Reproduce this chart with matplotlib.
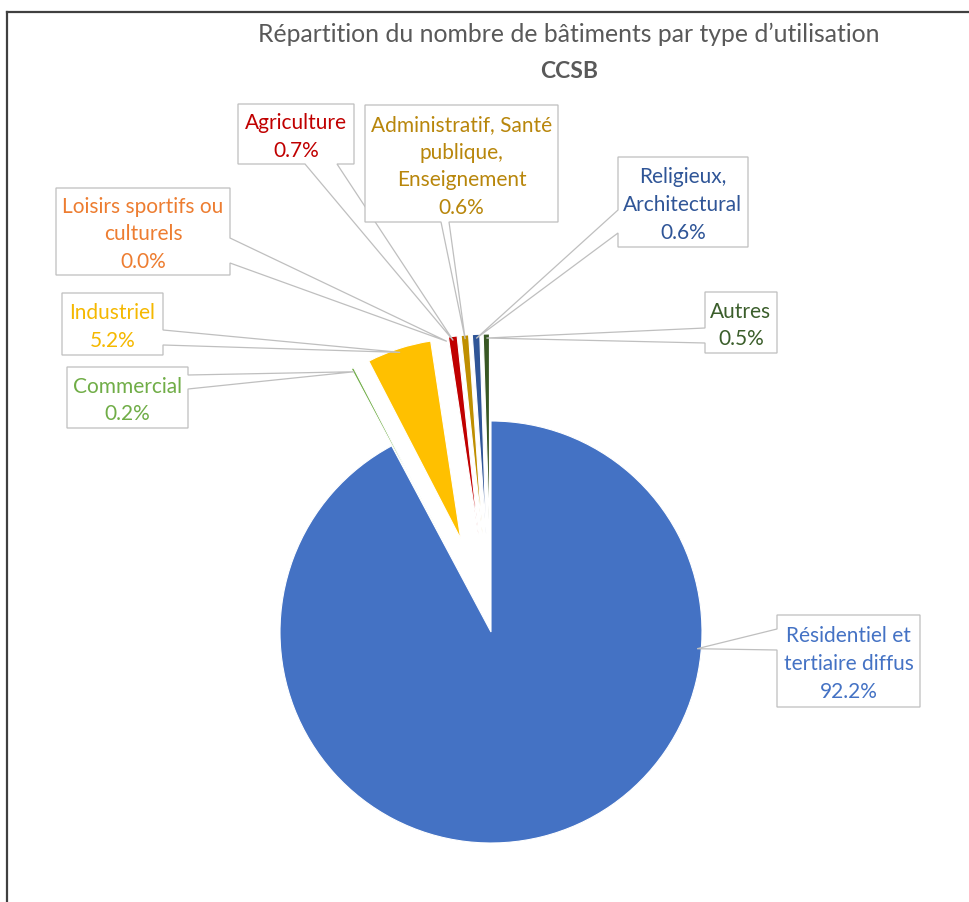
import numpy as np
import matplotlib
matplotlib.use("Agg")
import matplotlib.pyplot as plt
from matplotlib.patches import Polygon

plt.rcParams['font.family'] = ['Lato', 'DejaVu Sans']

# data (clockwise from 12 o'clock)
categories = ["Résidentiel et\ntertiaire diffus", "Commercial", "Industriel",
              "Loisirs sportifs ou\nculturels", "Agriculture",
              "Administratif, Santé\npublique,\nEnseignement",
              "Religieux,\nArchitectural", "Autres"]
shares = [92.2, 0.2, 5.2, 0.0, 0.7, 0.6, 0.6, 0.5]
slice_colors = ["#4472C4", "#70AD47", "#FFC000", "#ED7D31",
                "#C00000", "#BF8F00", "#2F5597", "#385723"]
text_colors = ["#4472C4", "#70AD47", "#F5B800", "#ED7D31",
               "#C00000", "#B8860B", "#2F5597", "#3B5E2B"]

# layout, in pixels from the top-left corner
W, H = 969, 902
pie_center = (491, 632)
pie_r = 211
small_r = 200
pull = 98          # how far the small slices are pulled out
# callout boxes: (x0, y0, x1, y1), side of pointer, pointer base
boxes = [
    ((777, 615, 920, 707), 'left', (629, 650)),
    ((67, 367, 188, 428), 'right', (375, 389)),
    ((62, 293, 163, 355), 'right', (330, 345)),
    ((56, 188, 230, 275), 'right', (238, 263)),
    ((238, 104, 354, 164), 'bottom', (305, 337)),
    ((365, 105, 558, 222), 'bottom', (441, 449)),
    ((618, 157, 748, 247), 'left', (210, 233)),
    ((705, 292, 777, 353), 'left', (328, 343)),
]


def P(x, y):
    return x, H - y


def to_px(x, y):
    return x, H - y


fig = plt.figure(figsize=(W / 100, H / 100), dpi=100)
ax = fig.add_axes([0, 0, 1, 1])

explode = [0] + [pull] * (len(shares) - 1)
wedges, _ = ax.pie(shares, colors=slice_colors, startangle=90, counterclock=False,
                   radius=pie_r, center=P(*pie_center), explode=explode,
                   wedgeprops=dict(edgecolor='white', linewidth=0.8))
for w in wedges[1:]:
    w.set_radius(small_r)

ax.set_xlim(0, W)
ax.set_ylim(0, H)
ax.set_aspect('auto')
ax.axis('off')


def apex_of(w, target):
    cx, cy = w.center
    th1, th2 = w.theta1, w.theta2
    ang = np.degrees(np.arctan2(target[1] - cy, target[0] - cx))
    rel = (ang - th1) % 360
    if rel <= (th2 - th1):
        a = th1 + rel
    else:
        a = (th1 + th2) / 2
    a = np.radians(a)
    rr = w.r * 0.98
    return cx + rr * np.cos(a), cy + rr * np.sin(a)


def callout(box, side, base, apex):
    x0, y0, x1, y1 = box
    b0, b1 = base
    axp, ayp = to_px(*apex)
    pts = [(x0, y0)]
    if side == 'top':
        pts += [(b0, y0), (axp, ayp), (b1, y0)]
    pts += [(x1, y0)]
    if side == 'right':
        pts += [(x1, b0), (axp, ayp), (x1, b1)]
    pts += [(x1, y1)]
    if side == 'bottom':
        pts += [(b1, y1), (axp, ayp), (b0, y1)]
    pts += [(x0, y1)]
    if side == 'left':
        pts += [(x0, b1), (axp, ayp), (x0, b0)]
    return [P(*p) for p in pts]


for k, (box, side, base) in enumerate(boxes):
    x0, y0, x1, y1 = box
    bc = P((x0 + x1) / 2, (y0 + y1) / 2)
    apex = apex_of(wedges[k], bc)
    poly = Polygon(callout(box, side, base, apex), closed=True, facecolor='white',
                   edgecolor='#BFBFBF', linewidth=0.9, zorder=3 + k)
    ax.add_patch(poly)
    txt = f"{categories[k]}\n{shares[k]:.1f}%"
    ax.text(bc[0], bc[1] - 3, txt, ha='center', va='center', color=text_colors[k],
            fontsize=15, linespacing=1.48, zorder=3.5 + k)

# title
ax.text(*P(569, 34), "Répartition du nombre de bâtiments par type d’utilisation",
        ha='center', va='center', fontsize=17.8, color='#595959')
ax.text(*P(569, 71), "CCSB", ha='center', va='center', fontsize=16.5,
        fontweight='bold', color='#595959')

# frame (top and left edges only)
ax.plot([P(7, 12)[0], P(W, 12)[0]], [P(7, 12)[1], P(W, 12)[1]],
        color='#404040', linewidth=1.6, zorder=20, clip_on=False)
ax.plot([P(7, 12)[0], P(7, H)[0]], [P(7, 12)[1], P(7, H)[1]],
        color='#404040', linewidth=1.6, zorder=20, clip_on=False)

fig.savefig("out.png", dpi=100)
